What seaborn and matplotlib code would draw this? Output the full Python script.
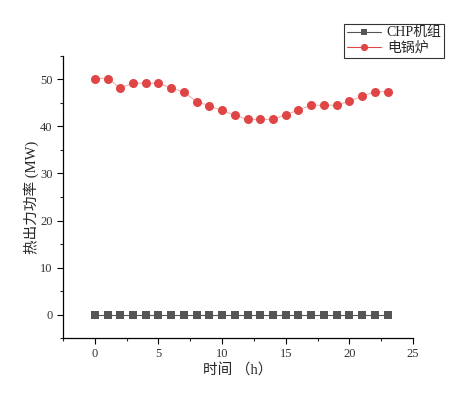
import numpy as np
import pandas as pd
import seaborn as sns
import matplotlib.pyplot as plt
from matplotlib.ticker import MultipleLocator

hours = list(range(24))
chp = [0] * 24
boiler = [50.2, 50.2, 48.2, 49.2, 49.2, 49.2, 48.2, 47.3, 45.3, 44.4, 43.4, 42.4,
          41.5, 41.5, 41.5, 42.5, 43.5, 44.5, 44.5, 44.5, 45.4, 46.4, 47.4, 47.4]

sns.set_style("white")
plt.rcParams['font.family'] = ['Liberation Serif', 'Noto Sans CJK SC']
plt.rcParams['axes.unicode_minus'] = False

df = pd.DataFrame({"时间": hours, "CHP机组": chp, "电锅炉": boiler})

fig = plt.figure(figsize=(4.63, 3.94), dpi=100)
ax = fig.add_axes([0.136, 0.142, 0.756, 0.716])

sns.lineplot(data=df, x="时间", y="CHP机组", ax=ax, color="#555555", marker="s",
             markersize=5.5, markeredgewidth=0, linewidth=0.8, label="CHP机组")
sns.lineplot(data=df, x="时间", y="电锅炉", ax=ax, color="#f2b0b0", marker="o",
             markersize=6.5, markeredgewidth=0, linewidth=0.8, label="电锅炉",
             markerfacecolor="#e04545")

ax.set_xlim(-2.5, 25)
ax.set_ylim(-5, 55)
ax.xaxis.set_major_locator(MultipleLocator(5))
ax.xaxis.set_minor_locator(MultipleLocator(2.5))
ax.yaxis.set_major_locator(MultipleLocator(10))
ax.yaxis.set_minor_locator(MultipleLocator(5))
ax.tick_params(which="major", direction="out", length=4, width=0.8, labelsize=9,
               bottom=True, left=True, colors="black")
ax.tick_params(which="minor", direction="out", length=2.5, width=0.8,
               bottom=True, left=True)
for t in ax.get_xticklabels() + ax.get_yticklabels():
    t.set_color("#333333")

for s in ["top", "right"]:
    ax.spines[s].set_visible(False)
for s in ["left", "bottom"]:
    ax.spines[s].set_color("black")
    ax.spines[s].set_linewidth(0.9)

ax.set_xlabel("时间 （h）", fontsize=10.5, labelpad=2)
ax.set_ylabel("热出力功率 (MW)", fontsize=10.5, labelpad=1)

leg = ax.legend(loc="upper right", bbox_to_anchor=(0.96, 0.94),
                bbox_transform=fig.transFigure, frameon=True, fancybox=False,
                edgecolor="black", fontsize=10, handlelength=2.5, markerscale=0.8,
                borderpad=0.2, labelspacing=0.15, handletextpad=0.4,
                borderaxespad=0)
leg.get_frame().set_linewidth(0.8)
leg.get_lines()[1].set_color("#e04545")

fig.savefig("out.png", dpi=100)
